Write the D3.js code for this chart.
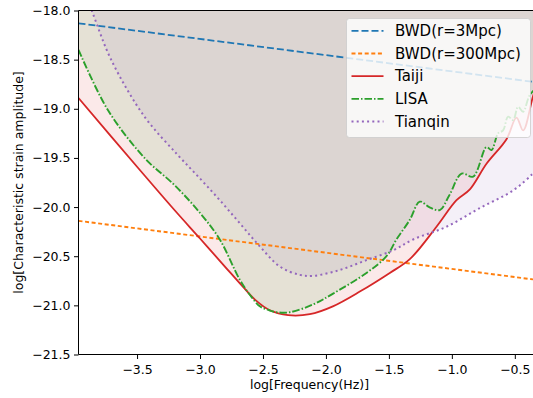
<!DOCTYPE html>
<html>
<head>
<meta charset="utf-8">
<script src="https://cdn.jsdelivr.net/npm/d3@7"></script>
<style>
  body { margin: 0; background: #fff; }
  svg { display: block; font-family: "DejaVu Sans", sans-serif; }
</style>
</head>
<body>
<div class="chart"></div>
<script>
// values: log10(frequency) and log10(strain)
const taijiX = [-3.965, -3.5, -3.203, -3.0, -2.806, -2.66, -2.557, -2.446, -2.30, -2.128, -1.945, -1.731, -1.493, -1.334, -1.122, -0.963, -0.857, -0.725, -0.566, -0.487, -0.434, -0.357, -0.30];
const taijiY = [-18.89, -19.59, -20.03, -20.32, -20.60, -20.81, -20.95, -21.05, -21.10, -21.09, -21.01, -20.86, -20.67, -20.53, -20.20, -19.93, -19.82, -19.56, -19.31, -19.09, -19.22, -18.88, -18.65];

const lisaX = [-3.965, -3.733, -3.441, -3.2, -3.0, -2.843, -2.684, -2.6, -2.525, -2.45, -2.393, -2.287, -2.1, -1.943, -1.678, -1.519, -1.44, -1.334, -1.255, -1.18, -1.096, -1.02, -0.923, -0.831, -0.725, -0.685, -0.633, -0.593, -0.553, -0.513, -0.474, -0.434, -0.381, -0.30];
const lisaY = [-18.40, -19.01, -19.50, -19.78, -20.06, -20.33, -20.74, -20.90, -21.01, -21.05, -21.07, -21.07, -20.99, -20.88, -20.67, -20.50, -20.33, -20.13, -19.945, -20.00, -20.03, -19.88, -19.66, -19.69, -19.39, -19.42, -19.25, -19.22, -19.08, -19.115, -18.98, -19.03, -18.86, -18.75];

const tianqinX = [-3.965, -3.86, -3.706, -3.441, -3.177, -3.0, -2.843, -2.684, -2.525, -2.366, -2.208, -2.102, -1.89, -1.678, -1.467, -1.308, -1.043, -0.778, -0.513, -0.357, -0.30];
const tianqinY = [-17.65, -18.0, -18.50, -19.08, -19.47, -19.71, -19.93, -20.165, -20.40, -20.605, -20.69, -20.70, -20.64, -20.54, -20.44, -20.33, -20.20, -20.01, -19.83, -19.66, -19.58];

const bwdX = [-3.965, -0.30];
const bwd3Y = [-18.13, -18.735];
const bwd300Y = [-20.14, -20.745];

const xTicks = [-3.5, -3.0, -2.5, -2.0, -1.5, -1.0, -0.5];
const yTicks = [-18.0, -18.5, -19.0, -19.5, -20.0, -20.5, -21.0, -21.5];

const width = 533;
const height = 398;
const plot = { left: 78.5, right: 540, top: 10.5, bottom: 354.5 };

const xScale = d3.scaleLinear().domain([-3.965, -0.30]).range([plot.left, plot.right]);
const yScale = d3.scaleLinear().domain([-21.5, -18.0]).range([plot.bottom, plot.top]);

const zip = (xs, ys) => xs.map((x, i) => [x, ys[i]]);

const series = [
  { name: "BWD(r=3Mpc)", pts: zip(bwdX, bwd3Y), color: "#1f77b4", dash: "7,3", lw: 1.8, fill: false },
  { name: "BWD(r=300Mpc)", pts: zip(bwdX, bwd300Y), color: "#ff7f0e", dash: "4,2.6", lw: 1.9, fill: false },
  { name: "Taiji", pts: zip(taijiX, taijiY), color: "#d62728", dash: null, lw: 1.8, fill: true },
  { name: "LISA", pts: zip(lisaX, lisaY), color: "#2ca02c", dash: "7.5,2,1.5,2", lw: 1.9, fill: true },
  { name: "Tianqin", pts: zip(tianqinX, tianqinY), color: "#9467bd", dash: "2,3.2", lw: 2, fill: true }
];

const svg = d3.select("div.chart")
  .append("svg")
  .attr("width", width)
  .attr("height", height);

svg.append("defs").append("clipPath")
  .attr("id", "plotclip")
  .append("rect")
  .attr("x", plot.left)
  .attr("y", plot.top)
  .attr("width", plot.right - plot.left)
  .attr("height", plot.bottom - plot.top);

const g = svg.append("g").attr("clip-path", "url(#plotclip)");

const curve = d3.curveCatmullRom.alpha(0.5);

const line = d3.line()
  .x(d => xScale(d[0]))
  .y(d => yScale(d[1]))
  .curve(curve);

// shaded band from each detector curve up to the top of the axes
const area = d3.area()
  .x(d => xScale(d[0]))
  .y0(yScale(-18.0))
  .y1(d => yScale(d[1]))
  .curve(curve);

series.filter(s => s.fill).forEach(s => {
  g.append("path")
    .attr("d", area(s.pts))
    .attr("fill", s.color)
    .attr("fill-opacity", 0.1);
});

series.forEach(s => {
  g.append("path")
    .attr("d", line(s.pts))
    .attr("fill", "none")
    .attr("stroke", s.color)
    .attr("stroke-width", s.lw)
    .attr("stroke-dasharray", s.dash);
});

// axes
const xAxis = svg.append("g")
  .attr("transform", `translate(0,${plot.bottom})`)
  .call(d3.axisBottom(xScale).tickValues(xTicks).tickFormat(d3.format(".1f")).tickSize(4.5).tickPadding(6));

const yAxis = svg.append("g")
  .attr("transform", `translate(${plot.left},0)`)
  .call(d3.axisLeft(yScale).tickValues(yTicks).tickFormat(d3.format(".1f")).tickSize(4.5).tickPadding(3.5));

[xAxis, yAxis].forEach(a => {
  a.select(".domain").remove();
  a.selectAll("line").attr("stroke", "#000").attr("stroke-width", 1);
  a.selectAll("text").attr("font-size", 12.5).attr("fill", "#000").attr("font-family", "DejaVu Sans");
});

// spines
svg.append("line").attr("x1", plot.left).attr("x2", plot.left).attr("y1", plot.top).attr("y2", plot.bottom).attr("stroke", "#000");
svg.append("line").attr("x1", plot.left).attr("x2", plot.right).attr("y1", plot.bottom).attr("y2", plot.bottom).attr("stroke", "#000");
svg.append("line").attr("x1", plot.left).attr("x2", plot.right).attr("y1", plot.top).attr("y2", plot.top).attr("stroke", "#000");

svg.append("text")
  .attr("x", 309.5)
  .attr("y", 389)
  .attr("text-anchor", "middle")
  .attr("font-size", 12.5)
  .text("log[Frequency(Hz)]");

svg.append("text")
  .attr("transform", `translate(18,${(plot.top + plot.bottom) / 2}) rotate(-90)`)
  .attr("text-anchor", "middle")
  .attr("dominant-baseline", "central")
  .attr("font-size", 12.5)
  .text("log[Characteristic strain amplitude]");

// legend
const legend = svg.append("g").attr("transform", "translate(346.5,18.5)");
legend.append("rect")
  .attr("width", 184)
  .attr("height", 119)
  .attr("rx", 3)
  .attr("fill", "#fff")
  .attr("fill-opacity", 0.8)
  .attr("stroke", "#ccc")
  .attr("stroke-opacity", 0.8);

series.forEach((s, i) => {
  const y = 12.3 + i * 22.7;
  legend.append("line")
    .attr("x1", 5).attr("x2", 37)
    .attr("y1", y).attr("y2", y)
    .attr("stroke", s.color)
    .attr("stroke-width", s.lw)
    .attr("stroke-dasharray", s.dash);
  legend.append("text")
    .attr("x", 48.5)
    .attr("y", y)
    .attr("dominant-baseline", "central")
    .attr("font-size", 15)
    .text(s.name);
});
</script>
</body>
</html>
